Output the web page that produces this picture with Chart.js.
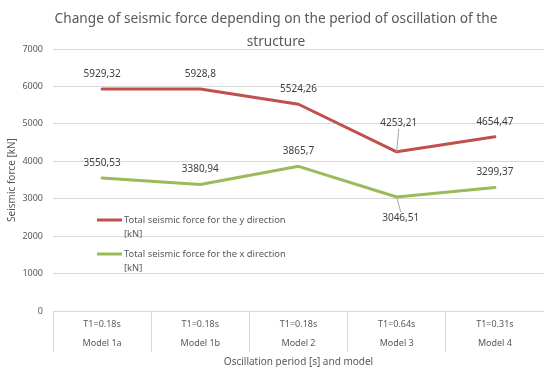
<!DOCTYPE html>
<html>
<head>
<meta charset="utf-8">
<script src="https://cdn.jsdelivr.net/npm/chart.js@4"></script>
<style>
  html, body { margin: 0; padding: 0; background: #fff; }
  #wrap { width: 544px; height: 367px; }
</style>
</head>
<body>
<div id="wrap"><canvas id="seismicChart"></canvas></div>
<script>
// chart data
const periods = ['T1=0.18s', 'T1=0.18s', 'T1=0.18s', 'T1=0.64s', 'T1=0.31s'];
const models = ['Model 1a', 'Model 1b', 'Model 2', 'Model 3', 'Model 4'];
const forceY = [5929.32, 5928.8, 5524.26, 4253.21, 4654.47];
const forceX = [3550.53, 3380.94, 3865.7, 3046.51, 3299.37];
const seriesNames = [
    ['Total seismic force for the y direction', '[kN]'],
    ['Total seismic force for the x direction', '[kN]']
];
const yTicks = [0, 1000, 2000, 3000, 4000, 5000, 6000, 7000];

const FONT = 'Noto Sans';
const GREY = '#595959';
const RED = '#c0504d';
const GREEN = '#9bbb59';

// where each value label sits relative to its point (leader line drawn when lead is set)
const labelPlace = {
    0: { 3: { dx: 2, dy: -29, lead: true } },
    1: { 3: { dx: 4, dy: 21, lead: true } }
};

const valueLabels = {
    id: 'valueLabels',
    afterDatasetsDraw(chart) {
        const ctx = chart.ctx;
        ctx.save();
        ctx.font = '10px "' + FONT + '"';
        ctx.fillStyle = '#404040';
        ctx.textAlign = 'center';
        ctx.textBaseline = 'middle';
        chart.data.datasets.forEach((ds, di) => {
            const meta = chart.getDatasetMeta(di);
            meta.data.forEach((pt, i) => {
                const p = (labelPlace[di] && labelPlace[di][i]) || { dx: 0, dy: -15 };
                const lx = pt.x + p.dx, ly = pt.y + p.dy;
                if (p.lead) {
                    ctx.strokeStyle = '#a6a6a6';
                    ctx.lineWidth = 1;
                    ctx.beginPath();
                    ctx.moveTo(pt.x, pt.y);
                    ctx.lineTo(lx, p.dy < 0 ? ly + 6 : ly - 6);
                    ctx.stroke();
                }
                ctx.fillText(String(ds.data[i]).replace('.', ','), lx, ly);
            });
        });
        ctx.restore();
    }
};

const insideLegend = {
    id: 'insideLegend',
    afterDraw(chart) {
        const ctx = chart.ctx;
        const x0 = chart.chartArea.left + 44;
        let y0 = chart.chartArea.top + 171;
        ctx.save();
        ctx.font = '9.4px "' + FONT + '"';
        ctx.fillStyle = GREY;
        ctx.textBaseline = 'middle';
        chart.data.datasets.forEach((ds, di) => {
            ctx.strokeStyle = ds.borderColor;
            ctx.lineWidth = 3;
            ctx.beginPath();
            ctx.moveTo(x0, y0);
            ctx.lineTo(x0 + 25, y0);
            ctx.stroke();
            seriesNames[di].forEach((line, li) => {
                ctx.fillText(line, x0 + 27, y0 + li * 14);
            });
            y0 += 34;
        });
        ctx.restore();
    }
};

new Chart(document.getElementById('seismicChart'), {
    type: 'line',
    data: {
        labels: periods.map((p, i) => [p, models[i]]),
        datasets: [{
            label: seriesNames[0].join(' '),
            data: forceY,
            borderColor: RED,
            backgroundColor: RED,
            borderWidth: 3,
            pointRadius: 0,
            borderCapStyle: 'round',
            borderJoinStyle: 'round'
        }, {
            label: seriesNames[1].join(' '),
            data: forceX,
            borderColor: GREEN,
            backgroundColor: GREEN,
            borderWidth: 3,
            pointRadius: 0,
            borderCapStyle: 'round',
            borderJoinStyle: 'round'
        }]
    },
    options: {
        responsive: true,
        maintainAspectRatio: false,
        animation: false,
        layout: { padding: { left: 8, right: 0, top: 0, bottom: 0 } },
        plugins: {
            legend: { display: false },
            tooltip: { enabled: false },
            title: {
                display: true,
                text: ['Change of seismic force depending on the period of oscillation of the', 'structure'],
                color: GREY,
                font: { family: FONT, size: 13.7, weight: 'normal', lineHeight: 23 / 13.7 },
                padding: { top: 8, bottom: -5 }
            }
        },
        scales: {
            x: {
                offset: true,
                grid: { offset: true, drawOnChartArea: false, color: '#d9d9d9', tickLength: 41 },
                border: { color: '#d9d9d9' },
                ticks: {
                    color: GREY,
                    padding: -37,
                    maxRotation: 0,
                    font: { family: FONT, size: 9, lineHeight: 2.1 }
                },
                title: {
                    display: true,
                    text: 'Oscillation period [s] and model',
                    color: GREY,
                    font: { family: FONT, size: 10 },
                    padding: { top: 0, bottom: -1 }
                },
                afterFit(s) { s.height = 56; }
            },
            y: {
                min: 0,
                max: 7000,
                afterBuildTicks(s) { s.ticks = yTicks.map(v => ({ value: v })); },
                grid: { color: '#d9d9d9', drawTicks: false },
                border: { display: false },
                ticks: {
                    color: GREY,
                    padding: 10,
                    font: { family: FONT, size: 9 },
                    callback: v => String(v)
                },
                title: {
                    display: true,
                    text: 'Seismic force [kN]',
                    color: GREY,
                    font: { family: FONT, size: 10 },
                    padding: { top: -2, bottom: 0 }
                },
                afterFit(s) { s.width = 45; }
            }
        }
    },
    plugins: [valueLabels, insideLegend]
});
</script>
</body>
</html>
